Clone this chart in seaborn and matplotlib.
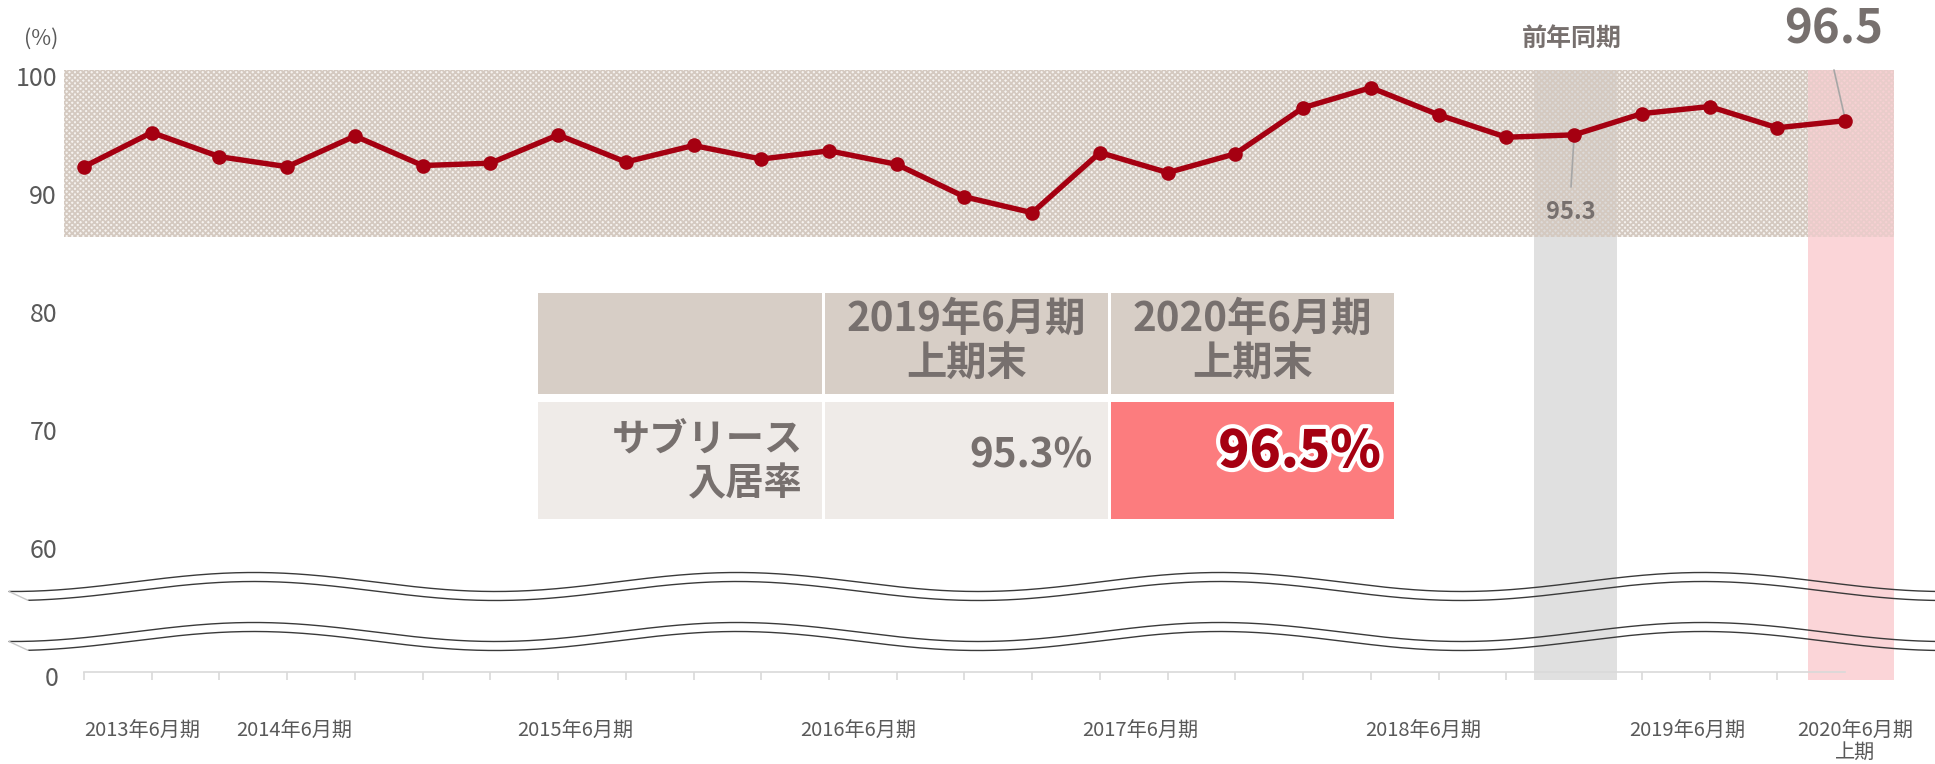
import numpy as np
import matplotlib
matplotlib.use('Agg')
import matplotlib.pyplot as plt
import matplotlib.patheffects as pe
from matplotlib.patches import Rectangle
import seaborn as sns

# occupancy rate per period (%)
values = [92.6, 95.5, 93.45, 92.6, 95.2, 92.7, 92.9, 95.3, 93.0, 94.4,
          93.25, 93.95, 92.8, 90.05, 88.7, 93.8, 92.1, 93.7, 97.6, 99.3,
          97.0, 95.1, 95.3, 97.1, 97.7, 95.9, 96.5]
tick_labels = ['2013年6月期', '2014年6月期', '2015年6月期', '2016年6月期',
               '2017年6月期', '2018年6月期', '2019年6月期', '2020年6月期\n上期']
ytick_values = [60, 70, 80, 90, 100]
prev_label = '前年同期'
table_header = ['2019年6月期\n上期末', '2020年6月期\n上期末']
table_row = 'サブリース\n入居率'
table_values = ['95.3%', '96.5%']

# where the period labels sit along the axis (index units)
tick_pos = [0.86, 3.10, 7.25, 11.43, 15.6, 19.77, 23.67, 26.15]
prev_i, cur_i = 22, 26

sns.set_style('white')
plt.rcParams['font.family'] = ['Noto Sans CJK JP', 'DejaVu Sans']

W, H = 1935, 764
fig = plt.figure(figsize=(W / 100, H / 100), dpi=100)

# pixel <-> data helpers for the main axes
def px2x(px):
    return (px - 84) / 67.73

def py2y(py):
    return 100 - (py - 79.4) / 11.8

ax = fig.add_axes([64 / W, (H - 672) / H, (W - 64) / W, 672 / H])
ax.set_xlim(px2x(64), px2x(W))
ax.set_ylim(py2y(672), py2y(0))

red = '#a50011'
grey_txt = '#77706e'
axis_txt = '#595959'

# highlight columns
ax.fill_between([px2x(1534), px2x(1617)], py2y(680), py2y(70),
                color='#e0e0e0', lw=0, zorder=1, clip_on=False)
ax.fill_between([px2x(1808), px2x(1894)], py2y(680), py2y(70),
                color='#fbd5d8', lw=0, zorder=1, clip_on=False)

# textured band behind the line
plt.rcParams['hatch.linewidth'] = 1.3
ax.fill_between([px2x(64), px2x(1894)], py2y(237), py2y(70),
                facecolor=(0.84, 0.79, 0.75, 0.22), edgecolor='#d4c9c0',
                hatch='xxxxxx', lw=0, zorder=1.5)
# pink tint of the current column over the texture
ax.fill_between([px2x(1808), px2x(1894)], py2y(237), py2y(70),
                color='#fbd0d4', alpha=0.55, lw=0, zorder=1.6)

x = np.arange(len(values))
sns.lineplot(x=x, y=values, color=red, linewidth=3.9, marker='o',
             markersize=10.5, markeredgewidth=0, ax=ax, zorder=4)

# axis styling
for s in ['top', 'right', 'left']:
    ax.spines[s].set_visible(False)
ax.spines['bottom'].set_color('#d9d9d9')
ax.spines['bottom'].set_linewidth(1.2)
ax.spines['bottom'].set_bounds(0, len(values) - 1)
ax.spines['bottom'].set_zorder(3)
ax.set_xticks(x, minor=True)
ax.set_xticks(tick_pos)
ax.set_xticklabels(tick_labels, fontsize=14.5, color=axis_txt)
ax.get_xticklabels()[-1].set_linespacing(1.0)
ax.tick_params(axis='x', which='minor', bottom=True, length=5.5, width=1.2,
               color='#d9d9d9', direction='out')
ax.tick_params(axis='x', which='major', bottom=True, length=0, pad=35)
ax.set_yticks(ytick_values)
ax.set_yticklabels([str(v) for v in ytick_values], fontsize=18, color=axis_txt)
ax.tick_params(axis='y', length=0, pad=5)
for lab in ax.get_yticklabels():
    lab.set_verticalalignment('center')
ax.annotate('0', xy=(0, py2y(679)), xycoords=('axes fraction', 'data'),
            xytext=(-4, 0), textcoords='offset points', ha='right',
            va='center', fontsize=18, color=axis_txt, annotation_clip=False)
ax.text(px2x(41), py2y(39), '(%)', ha='center', va='center', fontsize=15.5,
        color=axis_txt, clip_on=False)
ax.grid(False)

# callouts
ax.text(prev_i - 0.03, py2y(39), prev_label, ha='center', va='center',
        fontsize=18, fontweight='bold', color=grey_txt)
ax.plot([px2x(1571), prev_i], [py2y(187), values[prev_i] - 0.2],
        color='#a6a6a6', lw=1.2, zorder=3.5)
ax.text(px2x(1571), py2y(212), f'{values[prev_i]:.1f}', ha='center',
        va='center', fontsize=17, fontweight='bold', color=grey_txt, zorder=5)
ax.plot([px2x(1834), cur_i], [py2y(70), values[cur_i] + 0.2],
        color='#a6a6a6', lw=1.2, zorder=3.5)
ax.text(px2x(1834), py2y(30), f'{values[cur_i]:.1f}', ha='center',
        va='center', fontsize=34, fontweight='bold', color=grey_txt)

# axis break marks
xs = np.linspace(9, W, 800)
for c in [582, 632]:
    wa = c - 9.5 * np.cos(2 * np.pi * (xs - 254) / 483)
    xb = xs[xs >= 28]
    wb = c + 9 - 9.5 * np.cos(2 * np.pi * (xb - 254) / 483)
    ax.plot(px2x(xs), py2y(wa), color='#3a3a3a', lw=1.0, zorder=3,
            clip_on=False)
    ax.plot(px2x(xb), py2y(wb), color='#3a3a3a', lw=1.0, zorder=3,
            clip_on=False)
    ax.plot([px2x(9), px2x(28)], [py2y(wa[0]), py2y(wb[0])],
            color='#c8c8c8', lw=1.0, zorder=3, clip_on=False)

# comparison table (pixel coordinates)
tab = fig.add_axes([0, 0, 1, 1])
tab.set_xlim(0, W)
tab.set_ylim(H, 0)
tab.axis('off')
cols = [(538, 822), (825, 1108), (1111, 1394)]
for i, (x0, x1) in enumerate(cols):
    tab.add_patch(Rectangle((x0, 293), x1 - x0, 101, color='#d7cec6', lw=0))
    body = '#fc7c7e' if i == 2 else '#efebe8'
    tab.add_patch(Rectangle((x0, 402), x1 - x0, 117, color=body, lw=0))
for (x0, x1), txt in zip(cols[1:], table_header):
    tab.text((x0 + x1) / 2, 341, txt, ha='center', va='center',
             fontsize=29, fontweight='bold', color=grey_txt, linespacing=1.1)
tab.text(803, 462, table_row, ha='right', va='center', multialignment='right',
         fontsize=27.5, fontweight='bold', color=grey_txt, linespacing=1.15)
tab.text(1093, 456, table_values[0], ha='right', va='center', fontsize=29,
         fontweight='bold', color=grey_txt)
tab.text(1381, 452, table_values[1], ha='right', va='center', fontsize=37,
         fontweight='heavy', color=red,
         path_effects=[pe.withStroke(linewidth=6, foreground='white')])

fig.savefig('out.png', dpi=100)
